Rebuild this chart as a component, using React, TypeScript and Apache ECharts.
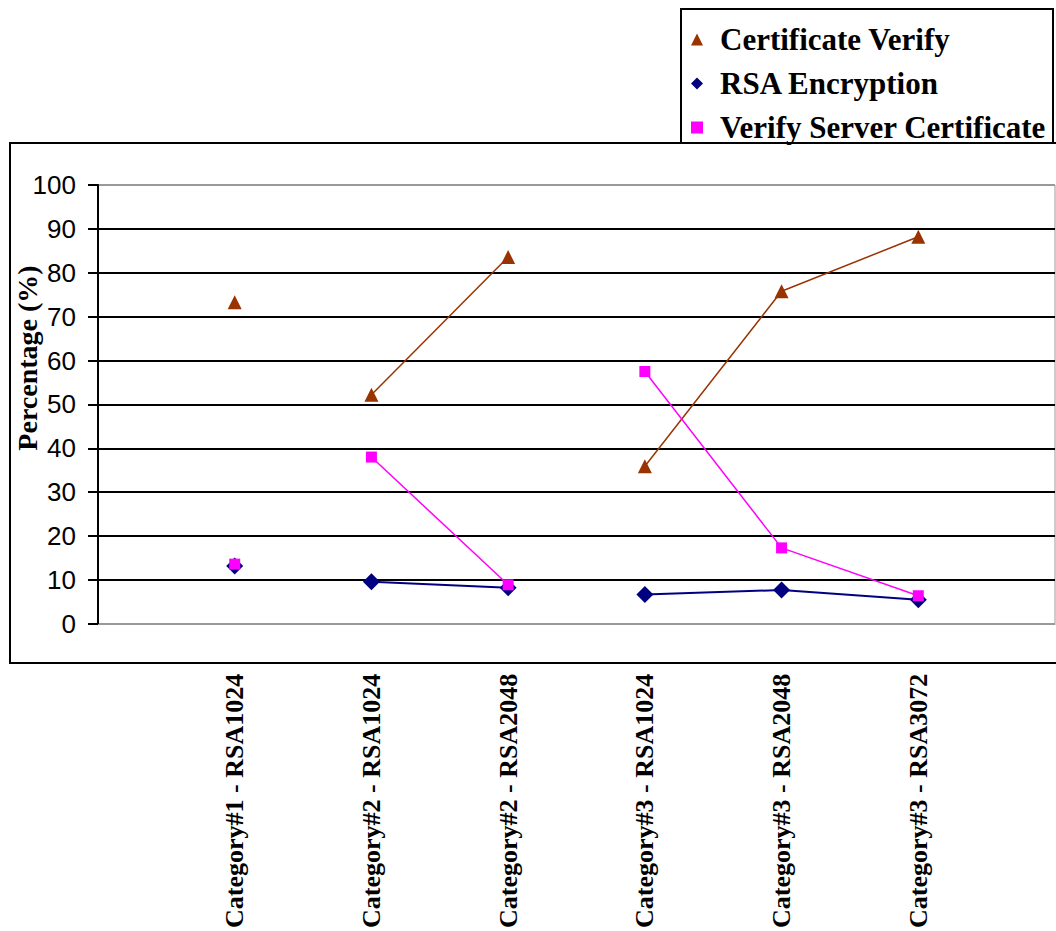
import React, { useEffect, useRef } from "react";
import * as echarts from "echarts";

const categories = [
  "",
  "Category#1 - RSA1024",
  "Category#2 - RSA1024",
  "Category#2 - RSA2048",
  "Category#3 - RSA1024",
  "Category#3 - RSA2048",
  "Category#3 - RSA3072",
  "",
];
const certificateVerify = [null, 73.3, 52.2, 83.6, 35.9, 75.8, 88.2, null];
const rsaEncryption = [null, 13.2, 9.6, 8.2, 6.7, 7.7, 5.5, null];
const verifyServerCertificate = [null, 13.6, 38.0, 8.9, 57.5, 17.3, 6.4, null];
// connected runs of categories (start index, end index)
const segments = [
  [1, 1],
  [2, 3],
  [4, 6],
];
const yTicks = { min: 0, max: 100, interval: 10 };

const metrics = [
  { name: "Certificate Verify", data: certificateVerify, color: "#993300", symbol: "triangle", size: 14, width: 1.5 },
  { name: "RSA Encryption", data: rsaEncryption, color: "#000080", symbol: "diamond", size: 17, width: 2 },
  { name: "Verify Server Certificate", data: verifyServerCertificate, color: "#FF00FF", symbol: "rect", size: 11, width: 1.5 },
];

export default function App() {
  const ref = useRef<HTMLDivElement>(null);
  useEffect(() => {
    if (!ref.current) return;
    const chart = echarts.init(ref.current, null, { renderer: "svg" });
    const series: any[] = [];
    metrics.forEach((m) => {
      segments.forEach(([s, e]) => {
        series.push({
          type: "line",
          name: m.name,
          data: m.data.map((v, i) => (i >= s && i <= e ? v : null)),
          symbol: m.symbol,
          symbolSize: m.size,
          showAllSymbol: true,
          connectNulls: false,
          lineStyle: { color: m.color, width: m.width },
          itemStyle: { color: m.color },
          emphasis: { disabled: true },
        });
      });
    });
    const splitColors = ["#999999"];
    for (let i = 1; i < 10; i++) splitColors.push("#000000");
    splitColors.push("#999999");
    chart.setOption({
      animation: false,
      backgroundColor: "#ffffff",
      graphic: [
        {
          type: "rect",
          shape: { x: 10, y: 143, width: 1060, height: 520 },
          style: { fill: "none", stroke: "#000", lineWidth: 2 },
          z: -1,
        },
        {
          type: "rect",
          shape: { x: 681, y: 9, width: 372, height: 134 },
          style: { fill: "#fff", stroke: "#000", lineWidth: 2 },
          z: 0,
        },
        {
          type: "text",
          x: 27,
          y: 358,
          rotation: Math.PI / 2,
          style: {
            text: "Percentage (%)",
            font: "bold 28px 'Liberation Serif'",
            fill: "#000",
            align: "center",
            verticalAlign: "middle",
          },
        },
      ],
      legend: {
        orient: "vertical",
        left: 686,
        top: 19,
        itemWidth: 12,
        itemHeight: 12,
        itemGap: 13,
        z: 10,
        data: [
          { name: metrics[0].name, icon: "triangle" },
          { name: metrics[1].name, icon: "diamond" },
          { name: metrics[2].name, icon: "rect" },
        ],
        textStyle: {
          fontFamily: "Liberation Serif",
          fontWeight: "bold",
          fontSize: 31,
          color: "#000",
          lineHeight: 30,
          padding: [0, 0, 0, 12],
        },
      },
      grid: {
        left: 98,
        right: 1,
        top: 185,
        bottom: 306,
        show: true,
        borderColor: "#999999",
        borderWidth: 1,
      },
      xAxis: {
        type: "category",
        data: categories,
        boundaryGap: false,
        axisLine: { show: true, lineStyle: { color: "#999999", width: 1 } },
        axisTick: { show: false },
        splitLine: { show: false },
        axisLabel: {
          interval: 0,
          rotate: 90,
          margin: 50,
          fontFamily: "Liberation Serif",
          fontWeight: "bold",
          fontSize: 26,
          color: "#000",
        },
      },
      yAxis: {
        type: "value",
        min: yTicks.min,
        max: yTicks.max,
        interval: yTicks.interval,
        axisLine: { show: true, lineStyle: { color: "#000", width: 2 } },
        axisTick: { show: true, inside: false, length: 10, lineStyle: { color: "#000", width: 2 } },
        splitLine: { show: true, lineStyle: { color: splitColors, width: 2 } },
        axisLabel: {
          margin: 22,
          fontFamily: "Liberation Sans",
          fontSize: 26,
          color: "#000",
        },
      },
      series,
    });
    return () => chart.dispose();
  }, []);
  return (
    <div
      ref={ref}
      style={{ position: "fixed", left: 0, top: 0, width: 1056, height: 931, background: "#fff" }}
    />
  );
}
